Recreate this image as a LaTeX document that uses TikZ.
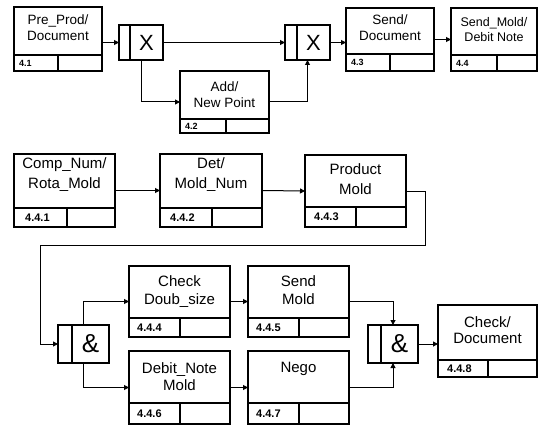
\documentclass[tikz,border=0pt]{standalone}
\usepackage{fontspec}
\setmainfont{Liberation Sans}
\usetikzlibrary{arrows.meta,calc}
\tikzset{
  pbox/.style={draw, line width=1.2pt, outer sep=0pt, inner sep=0pt, fill=white},
  pline/.style={line width=1.1pt},
  conn/.style={line width=1pt, -{Triangle[length=5pt,width=5pt]}},
  plain/.style={line width=1pt},
  ttop/.style={inner sep=0pt, align=center, anchor=north, font=\fontsize{13.5}{16}\selectfont},
  tlow/.style={inner sep=0pt, align=center, anchor=north, font=\fontsize{15}{18}\selectfont},
  numtop/.style={inner sep=0pt, anchor=west, font=\fontsize{9}{10}\selectfont\bfseries},
  numlow/.style={inner sep=0pt, anchor=west, font=\fontsize{11}{12}\selectfont\bfseries},
  jlabel/.style={inner sep=0pt, font=\fontsize{22}{24}\selectfont},
}
% name, strip height, divider offset, number style, x offset of number, number
\newcommand\pstrip[6]{%
  \draw[pline] ([yshift=#2pt]#1.south west) -- ([yshift=#2pt]#1.south east);
  \draw[pline] ([xshift=#3pt,yshift=#2pt]#1.south west) -- ([xshift=#3pt]#1.south west);
  \node[#4] at ([xshift=#5pt,yshift=#2*0.5pt]#1.south west) {#6};
}
% name, x, y, w, h, divider offset, label, font size
\newcommand\pjunc[8]{%
  \node[pbox, minimum width=#4pt, minimum height=#5pt, anchor=north west] (#1) at (#2,#3) {};
  \draw[pline] ([xshift=#6pt]#1.north west) -- ([xshift=#6pt]#1.south west);
  \node[jlabel, font=\fontsize{#8}{#8}\selectfont] at ($([xshift=#6pt]#1.west)!0.5!(#1.east)$) {#7};
}
\begin{document}
\begin{tikzpicture}[x=1pt,y=-1pt]
\useasboundingbox (0,0) rectangle (538,425);

% ---------- top row ----------
\node[pbox, minimum width=88pt, minimum height=64pt, anchor=north west] (pre) at (14,7) {};
\node[ttop] at ([yshift=-8pt]pre.north) {Pre\_Prod/\\Document};
\pstrip{pre}{16}{44}{numtop}{5}{4.1}

\pjunc{xa}{119}{25}{44}{35}{11}{X}{22}
\pjunc{xb}{285}{25}{45}{35}{12}{X}{22}

\node[pbox, minimum width=89pt, minimum height=62pt, anchor=north west] (add) at (180,71) {};
\node[ttop] at ([yshift=-11pt]add.north) {Add/\\New Point};
\pstrip{add}{14}{46}{numtop}{5}{4.2}

\node[pbox, minimum width=88pt, minimum height=63pt, anchor=north west] (send) at (346,8) {};
\node[ttop] at ([yshift=-7pt]send.north) {Send/\\Document};
\pstrip{send}{17}{44}{numtop}{5}{4.3}

\node[pbox, minimum width=86pt, minimum height=63pt, anchor=north west] (sendmold) at (451,8) {};
\node[ttop, font=\fontsize{12.5}{15}\selectfont] at ([yshift=-9pt]sendmold.north) {Send\_Mold/\\Debit Note};
\pstrip{sendmold}{16}{46}{numtop}{5}{4.4}

\draw[conn] (pre.east |- xa.west) -- (xa.west);
\draw[conn] (xa.east) -- (xb.west);
\draw[conn] (xa.south) |- (add.west);
\draw[conn] (add.east) -| (xb.south);
\draw[conn] (xb.east) -- (xb.east -| send.west);
\draw[conn] (send.east) -- (sendmold.west);

% ---------- middle row ----------
\node[pbox, minimum width=101pt, minimum height=73pt, anchor=north west] (comp) at (14,154) {};
\node[tlow, font=\fontsize{15}{20}\selectfont] at ([yshift=-3pt]comp.north) {Comp\_Num/\\Rota\_Mold};
\pstrip{comp}{19}{53}{numlow}{11}{4.4.1}

\node[pbox, minimum width=102pt, minimum height=73pt, anchor=north west] (det) at (160,154) {};
\node[tlow, font=\fontsize{15}{20}\selectfont] at ([yshift=-3pt]det.north) {Det/\\Mold\_Num};
\pstrip{det}{19}{52}{numlow}{10}{4.4.2}

\node[pbox, minimum width=101pt, minimum height=72pt, anchor=north west] (prod) at (305,155) {};
\node[tlow, font=\fontsize{15}{20}\selectfont] at ([yshift=-8pt]prod.north) {Product\\Mold};
\pstrip{prod}{20}{51}{numlow}{9}{4.4.3}

\draw[conn] (comp.east) -- (det.west);
\draw[conn] (det.east) -- (prod.west);

% ---------- bottom rows ----------
\pjunc{anda}{58}{325}{51}{38}{14}{\&}{26}
\pjunc{andb}{368}{325}{50}{38}{13}{\&}{26}

\node[pbox, minimum width=101pt, minimum height=71pt, anchor=north west] (chk) at (129,266) {};
\node[tlow] at ([yshift=-9pt]chk.north) {Check\\Doub\_size};
\pstrip{chk}{19}{51}{numlow}{8}{4.4.4}

\node[pbox, minimum width=101pt, minimum height=71pt, anchor=north west] (sendm) at (248,266) {};
\node[tlow] at ([yshift=-9pt]sendm.north) {Send\\Mold};
\pstrip{sendm}{19}{51}{numlow}{8}{4.4.5}

\node[pbox, minimum width=101pt, minimum height=73pt, anchor=north west] (debit) at (129,351) {};
\node[tlow, font=\fontsize{15}{17}\selectfont] at ([yshift=-11pt]debit.north) {Debit\_Note\\Mold};
\pstrip{debit}{21}{51}{numlow}{8}{4.4.6}

\node[pbox, minimum width=101pt, minimum height=73pt, anchor=north west] (nego) at (248,351) {};
\node[tlow] at ([yshift=-11pt]nego.north) {Nego};
\pstrip{nego}{21}{51}{numlow}{8}{4.4.7}

\node[pbox, minimum width=99pt, minimum height=72pt, anchor=north west] (chkdoc) at (438,305) {};
\node[tlow, font=\fontsize{15}{16.5}\selectfont] at ([yshift=-11pt]chkdoc.north) {Check/\\Document};
\pstrip{chkdoc}{17}{50}{numlow}{9}{4.4.8}

\coordinate (c1) at (425,245);
\coordinate (c2) at (40,245);
\draw[conn] (prod.east) -| (c1) -- (c2) |- (anda.west);
\draw[conn] (anda.north) |- (chk.west);
\draw[conn] (anda.south) |- (debit.west);
\draw[conn] (chk.east) -- (sendm.west);
\draw[conn] (debit.east) -- (nego.west);
\draw[conn] (sendm.east) -| (andb.north);
\draw[conn] (nego.east) -| (andb.south);
\draw[conn] (andb.east) -- (andb.east -| chkdoc.west);
\end{tikzpicture}
\end{document}
